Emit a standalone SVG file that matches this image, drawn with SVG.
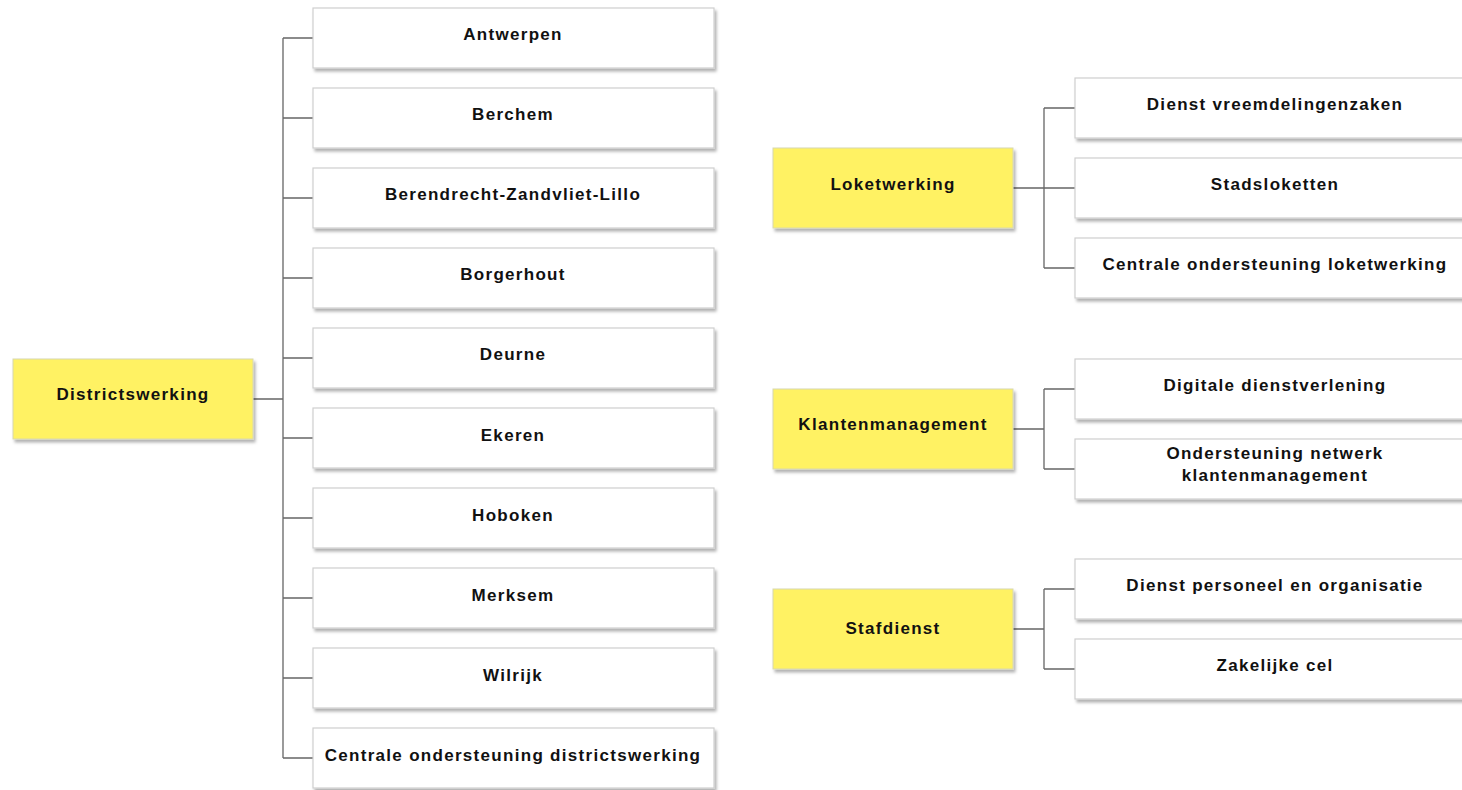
<svg xmlns="http://www.w3.org/2000/svg" width="1462" height="790" viewBox="0 0 1462 790">
<defs>
<filter id="sh" x="-5%" y="-10%" width="115%" height="130%">
<feDropShadow dx="2" dy="3" stdDeviation="1.5" flood-color="#000" flood-opacity="0.3"/>
</filter>
<style>
.box{fill:#fff;stroke:#cfcfcf;stroke-width:1.2;filter:url(#sh)}
.hd{fill:#fff263;stroke:#d8d8b0;stroke-width:1;filter:url(#sh)}
.t{font-family:"Liberation Sans",Arial,sans-serif;font-weight:bold;font-size:17px;letter-spacing:1.3px;fill:#111;text-anchor:middle}
.c{fill:none;stroke:#666;stroke-width:1.3}
</style>
</defs>
<rect width="1462" height="790" fill="#fff"/>
<g id="connectors">
<path class="c" d="M253,399H283M283,38V758M283,38H313M283,118H313M283,198H313M283,278H313M283,358H313M283,438H313M283,518H313M283,598H313M283,678H313M283,758H313"/>
<path class="c" d="M1013,188H1044M1044,108V268M1044,108H1075M1044,188H1075M1044,268H1075"/>
<path class="c" d="M1013,429H1044M1044,389V469M1044,389H1075M1044,469H1075"/>
<path class="c" d="M1013,629H1044M1044,589V669M1044,589H1075M1044,669H1075"/>
</g>
<g id="districtswerking"><rect class="hd" x="13" y="359" width="240" height="80"/><text class="t" x="133" y="400">Districtswerking</text></g>
<g id="antwerpen"><rect class="box" x="313" y="8" width="401" height="60"/><text class="t" x="513" y="40">Antwerpen</text></g>
<g id="berchem"><rect class="box" x="313" y="88" width="401" height="60"/><text class="t" x="513" y="120">Berchem</text></g>
<g id="bzl"><rect class="box" x="313" y="168" width="401" height="60"/><text class="t" x="513" y="200">Berendrecht-Zandvliet-Lillo</text></g>
<g id="borgerhout"><rect class="box" x="313" y="248" width="401" height="60"/><text class="t" x="513" y="280">Borgerhout</text></g>
<g id="deurne"><rect class="box" x="313" y="328" width="401" height="60"/><text class="t" x="513" y="360">Deurne</text></g>
<g id="ekeren"><rect class="box" x="313" y="408" width="401" height="60"/><text class="t" x="513" y="441">Ekeren</text></g>
<g id="hoboken"><rect class="box" x="313" y="488" width="401" height="60"/><text class="t" x="513" y="521">Hoboken</text></g>
<g id="merksem"><rect class="box" x="313" y="568" width="401" height="60"/><text class="t" x="513" y="601">Merksem</text></g>
<g id="wilrijk"><rect class="box" x="313" y="648" width="401" height="60"/><text class="t" x="513" y="681">Wilrijk</text></g>
<g id="cod"><rect class="box" x="313" y="728" width="401" height="60"/><text class="t" x="513" y="761">Centrale ondersteuning districtswerking</text></g>
<g id="loketwerking"><rect class="hd" x="773" y="148" width="240" height="80"/><text class="t" x="893" y="190">Loketwerking</text></g>
<g id="dv"><rect class="box" x="1075" y="78" width="401" height="60"/><text class="t" x="1275" y="110">Dienst vreemdelingenzaken</text></g>
<g id="stadsloketten"><rect class="box" x="1075" y="158" width="401" height="60"/><text class="t" x="1275" y="190">Stadsloketten</text></g>
<g id="col"><rect class="box" x="1075" y="238" width="401" height="60"/><text class="t" x="1275" y="270">Centrale ondersteuning loketwerking</text></g>
<g id="klantenmanagement"><rect class="hd" x="773" y="389" width="240" height="80"/><text class="t" x="893" y="430">Klantenmanagement</text></g>
<g id="dd"><rect class="box" x="1075" y="359" width="401" height="60"/><text class="t" x="1275" y="391">Digitale dienstverlening</text></g>
<g id="onk"><rect class="box" x="1075" y="439" width="401" height="60"/><text class="t" x="1275" y="459">Ondersteuning netwerk</text><text class="t" x="1275" y="481">klantenmanagement</text></g>
<g id="stafdienst"><rect class="hd" x="773" y="589" width="240" height="80"/><text class="t" x="893" y="634">Stafdienst</text></g>
<g id="dpo"><rect class="box" x="1075" y="559" width="401" height="60"/><text class="t" x="1275" y="591">Dienst personeel en organisatie</text></g>
<g id="zc"><rect class="box" x="1075" y="639" width="401" height="60"/><text class="t" x="1275" y="671">Zakelijke cel</text></g>
</svg>
